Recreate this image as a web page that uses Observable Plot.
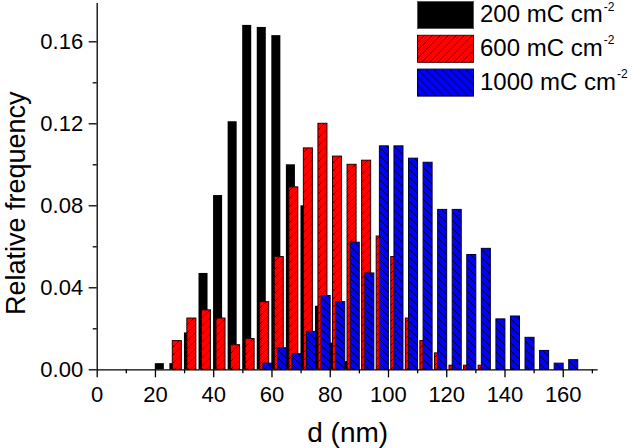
<!DOCTYPE html>
<html><head><meta charset="utf-8">
<script src="https://cdn.jsdelivr.net/npm/d3@7"></script>
<script src="https://cdn.jsdelivr.net/npm/@observablehq/plot@0.6"></script>
<style>body{margin:0;background:#fff} svg{display:block}</style>
</head><body><div id="chart"></div>
<script>
// Data (bin group centres in nm, relative frequency)
const bins200 = [22.5,27.5,32.5,37.5,42.5,47.5,52.5,57.5,62.5,67.5,72.5,77.5,82.5,87.5];
const freq200 = [0.003,0.003,0.018,0.047,0.085,0.121,0.168,0.167,0.163,0.100,0.080,0.031,0.013,0.004];
const bins600 = [27.5,32.5,37.5,42.5,47.5,52.5,57.5,62.5,67.5,72.5,77.5,82.5,87.5,92.5,97.5,102.5,107.5,112.5,117.5,122.5,127.5,132.5];
const freq600 = [0.014,0.025,0.029,0.025,0.012,0.015,0.033,0.055,0.089,0.108,0.120,0.104,0.100,0.102,0.065,0.055,0.025,0.014,0.008,0.002,0.002,0.002];
const bins1000 = [57.5,62.5,67.5,72.5,77.5,82.5,87.5,92.5,97.5,102.5,107.5,112.5,117.5,122.5,127.5,132.5,137.5,142.5,147.5,152.5,157.5,162.5];
const freq1000 = [0.003,0.0105,0.0076,0.0185,0.036,0.033,0.062,0.047,0.109,0.109,0.103,0.101,0.078,0.078,0.056,0.059,0.0246,0.026,0.0156,0.0092,0.003,0.0047];
const seriesLabels = ["200 mC cm", "600 mC cm", "1000 mC cm"];
const xTicks = [0,20,40,60,80,100,120,140,160];
const xMinor = [10,30,50,70,90,110,130,150,170];
const yTicks = [0,0.04,0.08,0.12,0.16];
const yMinor = [0.02,0.06,0.10,0.14];

const FONT = "'Liberation Sans', Arial, sans-serif";
const BW = 3.1; // bar width in nm
const rows = (bins, freq, off) => bins.map((b, i) => ({x1: b + off - BW/2, x2: b + off + BW/2, v: freq[i]}));
const r200 = rows(bins200, freq200, -1.0);
const r600 = rows(bins600, freq600, 0.0);
const r1000 = rows(bins1000, freq1000, 1.1);

const plot = Plot.plot({
  width: 636, height: 448,
  marginLeft: 96.7, marginRight: 38.3, marginTop: 0.3, marginBottom: 78.7,
  x: {domain: [0, 172]},
  y: {domain: [0, 0.18]},
  style: {fontFamily: FONT, fontSize: "22px", color: "#000", background: "#fff"},
  marks: [
    Plot.rect(r200, {x1: "x1", x2: "x2", y1: 0, y2: "v", fill: "#000"}),
    Plot.rect(r600, {x1: "x1", x2: "x2", y1: 0, y2: "v", fill: "url(#hatch600)", stroke: "#200", strokeWidth: 1}),
    Plot.rect(r1000, {x1: "x1", x2: "x2", y1: 0, y2: "v", fill: "url(#hatch1000)", stroke: "#000040", strokeWidth: 1}),
    Plot.ruleY([0], {stroke: "#000", strokeWidth: 1.3}),
    Plot.ruleX([0], {y1: 0, y2: 0.1787, stroke: "#000", strokeWidth: 1.3}),
    Plot.axisX({ticks: xTicks, tickSize: 8, tickPadding: 9, tickFormat: d3.format("d"), label: null, fontSize: 22, strokeWidth: 1.3}),
    Plot.axisX({ticks: xMinor, tickSize: 4, tickFormat: () => "", label: null, strokeWidth: 1.3}),
    Plot.axisY({ticks: yTicks, tickSize: 8, tickPadding: 6, tickFormat: d3.format(".2f"), label: null, fontSize: 22, strokeWidth: 1.3}),
    Plot.axisY({ticks: yMinor, tickSize: 4, tickFormat: () => "", label: null, strokeWidth: 1.3}),
    Plot.text(["d (nm)"], {frameAnchor: "bottom", lineAnchor: "bottom", dy: 72.4, fontSize: 28, fill: "#000"}),
    Plot.text(["Relative frequency"], {frameAnchor: "left", lineAnchor: "bottom", textAnchor: "middle", dx: -72, dy: 18, rotate: -90, fontSize: 27, fill: "#000"})
  ]
});

const svg = d3.select(plot);
const defs = svg.insert("defs", ":first-child");
const p1 = defs.append("pattern").attr("id", "hatch600").attr("patternUnits", "userSpaceOnUse").attr("width", 8).attr("height", 8);
p1.append("rect").attr("width", 8).attr("height", 8).attr("fill", "#ff0000");
p1.append("path").attr("d", "M-2,2 L2,-2 M0,8 L8,0 M6,10 L10,6").attr("stroke", "#300").attr("stroke-width", 0.9);
const p2 = defs.append("pattern").attr("id", "hatch1000").attr("patternUnits", "userSpaceOnUse").attr("width", 8).attr("height", 8);
p2.append("rect").attr("width", 8).attr("height", 8).attr("fill", "#0000ff");
p2.append("path").attr("d", "M-2,6 L2,10 M0,0 L8,8 M6,-2 L10,2").attr("stroke", "#000030").attr("stroke-width", 0.9);

// Legend
const fills = ["#000", "url(#hatch600)", "url(#hatch1000)"];
const strokes = ["#555", "#400", "#000040"];
const lg = svg.append("g").attr("transform", "translate(417,1)");
seriesLabels.forEach((lab, i) => {
  const g = lg.append("g").attr("transform", `translate(0,${i * 33.8})`);
  g.append("rect").attr("x", 0.5).attr("y", 0.5).attr("width", 56).attr("height", 27).attr("fill", fills[i]).attr("stroke", strokes[i]);
  const t = g.append("text").attr("x", 63).attr("y", 21).attr("text-anchor", "start")
    .attr("font-family", FONT).attr("font-size", 24).attr("fill", "#000");
  t.append("tspan").text(lab);
  t.append("tspan").attr("dy", -11.5).attr("dx", 1).attr("font-size", 12).text("-2");
});

document.getElementById("chart").appendChild(plot);
</script>
</body></html>
